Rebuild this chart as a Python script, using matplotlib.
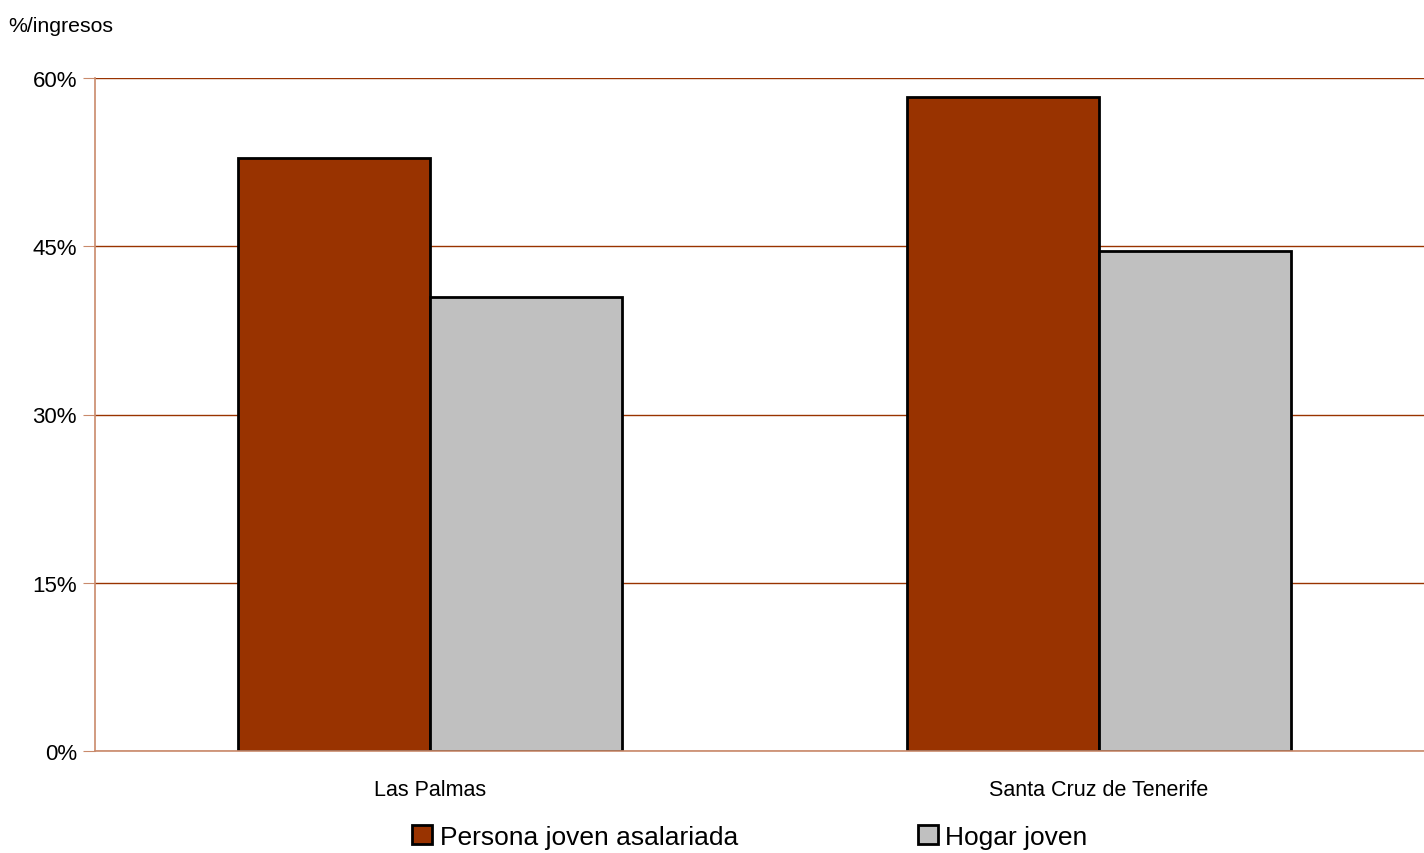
import numpy as np
import matplotlib.pyplot as plt
from matplotlib.ticker import FuncFormatter

plt.rcParams['font.family'] = ['Liberation Sans', 'DejaVu Sans']

# data
categories = ['Las Palmas', 'Santa Cruz de Tenerife']
series_names = ['Persona joven asalariada', 'Hogar joven']
asalariada = [52.9, 58.3]
hogar = [40.5, 44.6]
yticks = [0, 15, 30, 45, 60]

brown = '#993300'
grey = '#c0c0c0'
axis_col = '#c98a6b'

fig = plt.figure(figsize=(14.24, 8.54), dpi=100)
ax = fig.add_axes([95 / 1424, 102 / 854, 1 - 95 / 1424, 673 / 854])

x = np.arange(len(categories))
w = 0.287
ax.bar(x - w / 2, asalariada, w, color=brown, edgecolor='black', linewidth=2,
       label=series_names[0], zorder=3)
ax.bar(x + w / 2, hogar, w, color=grey, edgecolor='black', linewidth=2,
       label=series_names[1], zorder=3)

ax.set_xlim(-0.5, 1.486)
ax.set_ylim(0, 60)
ax.set_yticks(yticks)
ax.yaxis.set_major_formatter(FuncFormatter(lambda v, p: '%d%%' % v))
ax.set_xticks(x)
ax.set_xticklabels(categories)

ax.grid(axis='y', color=brown, linewidth=1, zorder=0)
ax.set_axisbelow(True)
for s in ['top', 'right']:
    ax.spines[s].set_visible(False)
for s in ['left', 'bottom']:
    ax.spines[s].set_color(axis_col)
    ax.spines[s].set_linewidth(1.2)
    ax.spines[s].set_zorder(4)

ax.tick_params(axis='y', length=9, color=axis_col, labelsize=16, pad=4)
ax.tick_params(axis='x', length=0, labelsize=15.5, pad=20)

fig.text(8 / 1424, 1 - 26 / 854, '%/ingresos', fontsize=15.3, va='center')

fig.legend(loc='center', bbox_to_anchor=(750 / 1424, 1 - 838 / 854), ncol=2,
           frameon=False, fontsize=19, handlelength=0.75, handleheight=0.75,
           handletextpad=0.3, columnspacing=6.8)

fig.savefig('out.png', dpi=100)
